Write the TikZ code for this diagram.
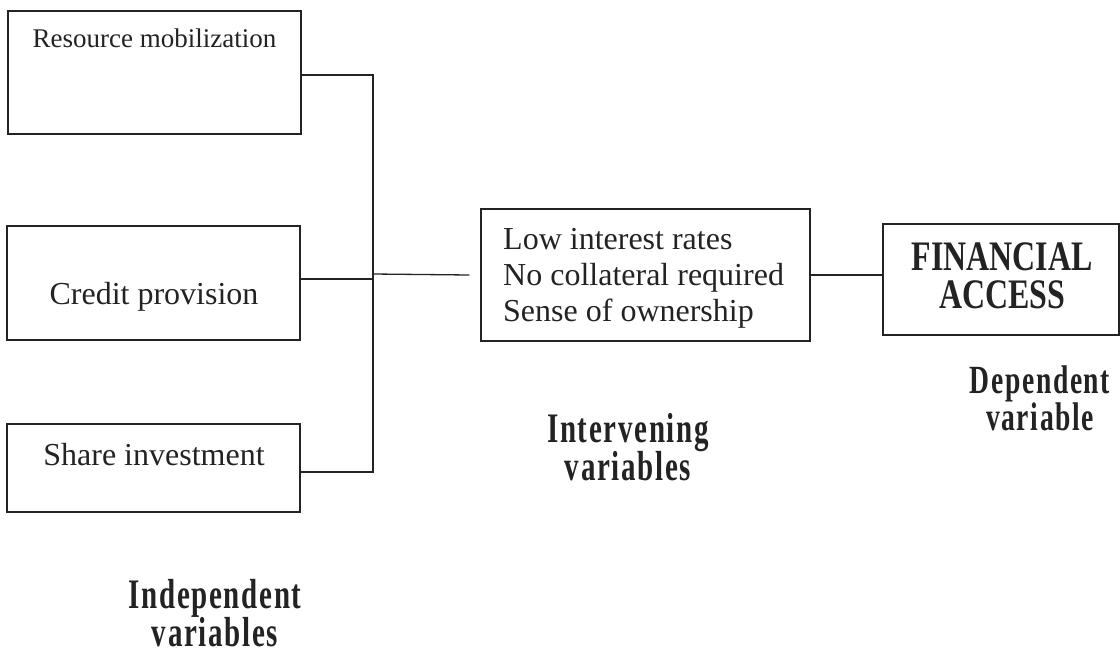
\documentclass[tikz,border=0pt]{standalone}
\usepackage{fontspec}
\setmainfont{Liberation Serif}
\newfontfamily\lblfont[FakeStretch=0.69, LetterSpace=4]{Liberation Serif}
\newfontfamily\finfont[FakeStretch=0.76]{Liberation Serif}
\definecolor{ink}{RGB}{35,35,35}
\begin{document}
\begin{tikzpicture}[x=1pt,y=-1pt,
  box/.style={draw=ink, line width=1.4pt, inner sep=0pt},
  conn/.style={draw=ink, line width=1.3pt},
  txt/.style={text=ink, inner sep=0pt, anchor=base, font=\fontsize{32}{36}\selectfont},
  lbl/.style={text=ink, inner sep=0pt, anchor=base, font=\lblfont\bfseries\fontsize{42}{32}\selectfont}]
\useasboundingbox (0,0) rectangle (1120,651);
\fill[white] (0,0) rectangle (1120,651);

% boxes
\node[box, minimum width=293pt, minimum height=123pt] (res) at (154.5,72.5) {};
\node[box, minimum width=293pt, minimum height=114pt] (credit) at (153.5,283) {};
\node[box, minimum width=293pt, minimum height=88pt] (share) at (153.5,468) {};
\node[box, minimum width=329pt, minimum height=132pt] (inter) at (645.5,275) {};
\node[box, minimum width=236pt, minimum height=111pt] (fin) at (1001,279.5) {};

% connectors
\coordinate (trunk) at (373,274);
\draw[conn] ([yshift=-2.5pt]res.east) -- ([yshift=-2.5pt]res.east -| trunk)
  -- ([yshift=-4pt]share.east -| trunk) -- ([yshift=-4pt]share.east);
\draw[conn] ([yshift=4pt]credit.east) -- ([yshift=4pt]credit.east -| trunk);
\draw[conn] (trunk) -- ([xshift=-11pt]inter.west);
\draw[conn] (inter.east) -- (inter.east -| fin.west);

% texts in boxes
\node[txt, font=\fontsize{27}{32}\selectfont] (restext) at (154.5,47) {Resource mobilization};
\node[txt] (credtext) at (154,304) {Credit provision};
\node[txt] (sharetext) at (154,465) {Share investment};
\node[txt, anchor=base west] (intertext) at (503,249)
  {\begin{tabular}[t]{@{}l@{}}Low interest rates\\No collateral required\\Sense of ownership\end{tabular}};
\node[lbl, font=\finfont\bfseries\fontsize{42}{34}\selectfont] (fintext) at (1002,270)
  {\begin{tabular}[t]{@{}c@{}}FINANCIAL\\ACCESS\end{tabular}};

% category labels
\node[lbl, font=\lblfont\bfseries\fontsize{42}{31}\selectfont] (intlbl) at (628,442)
  {\begin{tabular}[t]{@{}c@{}}Intervening\\variables\end{tabular}};
\node[lbl, font=\lblfont\bfseries\fontsize{40}{31}\selectfont] (deplbl) at (1040,393)
  {\begin{tabular}[t]{@{}c@{}}Dependent\\variable\end{tabular}};
\node[lbl, font=\lblfont\bfseries\fontsize{42}{31}\selectfont] (indlbl) at (215,608)
  {\begin{tabular}[t]{@{}c@{}}Independent\\variables\end{tabular}};
\end{tikzpicture}
\end{document}
